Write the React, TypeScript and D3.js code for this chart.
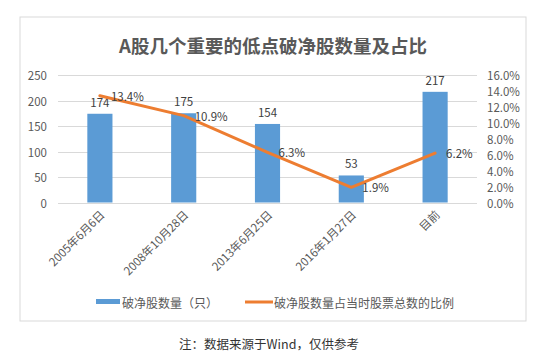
import React from "react";
import * as d3 from "d3";

const categories = ["2005年6月6日", "2008年10月28日", "2013年6月25日", "2016年1月27日", "目前"];
const counts = [174, 175, 154, 53, 217];
const ratios = [13.4, 10.9, 6.3, 1.9, 6.2];
const leftTicks = [0, 50, 100, 150, 200, 250];
const rightTicks = [0, 2, 4, 6, 8, 10, 12, 14, 16];
const title = "A股几个重要的低点破净股数量及占比";
const legendBar = "破净股数量（只）";
const legendLine = "破净股数量占当时股票总数的比例";
const note = "注：数据来源于Wind，仅供参考";

const FONT = "'Noto Sans CJK SC', 'Microsoft YaHei', sans-serif";

export default function App() {
  const W = 549, H = 357;
  const plot = { left: 58, right: 477, top: 75, bottom: 202.5 };
  const x = d3.scaleBand<string>().domain(categories).range([plot.left, plot.right]).paddingInner(0.7).paddingOuter(0.35);
  const xc = (c: string) => (x(c) as number) + x.bandwidth() / 2;
  const yL = d3.scaleLinear().domain([0, 250]).range([plot.bottom, plot.top]);
  const yR = d3.scaleLinear().domain([0, 16]).range([plot.bottom, plot.top]);
  const line = d3.line<number>().x((_, i) => xc(categories[i])).y((d) => yR(d));

  return (
    <svg width={W} height={H} style={{ position: "absolute", left: 0, top: 0, background: "#fff" }} fontFamily={FONT}>
      <rect x={20} y={17} width={506} height={304} fill="#fff" stroke="#D9D9D9" strokeWidth={1} />
      <text x={273} y={45} textAnchor="middle" dominantBaseline="central" fontSize={18.5} fontWeight="bold" fill="#595959">{title}</text>
      {leftTicks.map((t) => (
        <line key={"g" + t} x1={plot.left} x2={plot.right} y1={Math.round(yL(t)) + 0.5} y2={Math.round(yL(t)) + 0.5} stroke="#D9D9D9" strokeWidth={1} />
      ))}
      {leftTicks.map((t) => (
        <text key={"l" + t} x={47} y={yL(t)} textAnchor="end" dominantBaseline="central" fontSize={11.5} fill="#595959">{t}</text>
      ))}
      {rightTicks.map((t) => (
        <text key={"r" + t} x={487} y={yR(t)} textAnchor="start" dominantBaseline="central" fontSize={11.5} fill="#595959">{t.toFixed(1) + "%"}</text>
      ))}
      {categories.map((c, i) => (
        <rect key={"b" + c} x={x(c)} y={yL(counts[i])} width={x.bandwidth()} height={plot.bottom - yL(counts[i])} fill="#5B9BD5" />
      ))}
      {categories.map((c, i) => (
        <text key={"bl" + c} x={xc(c)} y={yL(counts[i]) - 12} textAnchor="middle" dominantBaseline="central" fontSize={11.5} fill="#404040">{counts[i]}</text>
      ))}
      <path d={line(ratios) || ""} fill="none" stroke="#ED7D31" strokeWidth={3} strokeLinejoin="round" strokeLinecap="round" />
      {categories.map((c, i) => (
        <text key={"ll" + c} x={xc(c) + 11} y={yR(ratios[i])} textAnchor="start" dominantBaseline="central" fontSize={11.5} fill="#404040">{ratios[i].toFixed(1) + "%"}</text>
      ))}
      {categories.map((c) => (
        <text key={"c" + c} transform={`translate(${xc(c) + 2},${212}) rotate(-45)`} textAnchor="end" dominantBaseline="central" fontSize={11.5} fill="#595959">{c}</text>
      ))}
      <rect x={96} y={299} width={24} height={5} fill="#5B9BD5" />
      <text x={122} y={302} dominantBaseline="central" fontSize={12} fill="#595959">{legendBar}</text>
      <line x1={245} x2={273} y1={302} y2={302} stroke="#ED7D31" strokeWidth={3} />
      <text x={274} y={302} dominantBaseline="central" fontSize={12} fill="#595959">{legendLine}</text>
      <text x={269} y={343} textAnchor="middle" dominantBaseline="central" fontSize={12.5} fill="#333">{note}</text>
    </svg>
  );
}
